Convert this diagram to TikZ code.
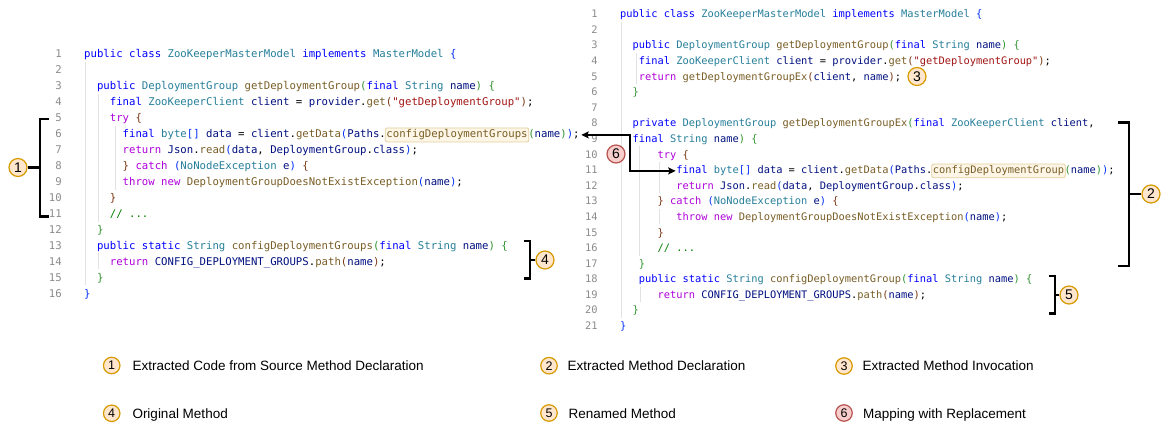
\documentclass[tikz,border=0pt]{standalone}
\usepackage{fontspec}
\setmainfont{Liberation Sans}
\newfontfamily\codefont{DejaVu Sans Mono}
\usetikzlibrary{arrows.meta}

% syntax colours (light editor theme)
\definecolor{ckw}{HTML}{0000FF}
\definecolor{cty}{HTML}{267F99}
\definecolor{cfn}{HTML}{795E26}
\definecolor{cva}{HTML}{001080}
\definecolor{cct}{HTML}{AF00DB}
\definecolor{cst}{HTML}{A31515}
\definecolor{ccm}{HTML}{008000}
\definecolor{cbA}{HTML}{0431FA}
\definecolor{cbB}{HTML}{319331}
\definecolor{cbC}{HTML}{7B3814}
\definecolor{lnumgray}{HTML}{8C8C8C}
\definecolor{guidegray}{HTML}{E2E2E2}
\definecolor{hlfill}{HTML}{FDF6E6}
\definecolor{hlline}{HTML}{E3CF9E}
\definecolor{orfill}{HTML}{FFE6CC}
\definecolor{orline}{HTML}{D79B00}
\definecolor{rdfill}{HTML}{F8CECC}
\definecolor{rdline}{HTML}{B85450}

\newcommand\cK[1]{\textcolor{ckw}{#1}}
\newcommand\cT[1]{\textcolor{cty}{#1}}
\newcommand\cF[1]{\textcolor{cfn}{#1}}
\newcommand\cV[1]{\textcolor{cva}{#1}}
\newcommand\cC[1]{\textcolor{cct}{#1}}
\newcommand\cS[1]{\textcolor{cst}{#1}}
\newcommand\cM[1]{\textcolor{ccm}{#1}}
\newcommand\bA[1]{\textcolor{cbA}{#1}}
\newcommand\bB[1]{\textcolor{cbB}{#1}}
\newcommand\bC[1]{\textcolor{cbC}{#1}}
\newcommand\dquote{\symbol{34}}

% line positions (baseline y, column x) of the two listings
\newcommand\ly[1]{(57.9+(#1-1)*15.96)}
\newcommand\ry[1]{(17.75+(#1-1)*15.59)}
\newcommand\lx[1]{(84+(#1)*6.42)}
\newcommand\rx[1]{(620+(#1)*6.24)}

\tikzset{
  lcode/.style={anchor=base west, inner sep=0pt, text height=8pt, text depth=2.4pt,
    font=\codefont\fontsize{10.66}{12}\selectfont},
  rcode/.style={anchor=base west, inner sep=0pt, text height=7.8pt, text depth=2.3pt,
    font=\codefont\fontsize{10.37}{12}\selectfont},
  lnum/.style={anchor=base east, inner sep=0pt, text=lnumgray,
    font=\codefont\fontsize{10.66}{12}\selectfont},
  rnum/.style={anchor=base east, inner sep=0pt, text=lnumgray,
    font=\codefont\fontsize{10.37}{12}\selectfont},
  hlbox/.style={fill=hlfill, draw=hlline, line width=0.8pt, rounded corners=2pt,
    inner xsep=1.2pt, inner ysep=1.8pt},
  guide/.style={draw=guidegray, line width=0.9pt},
  brk/.style={draw=black, line width=2.4pt},
  badge/.style={circle, draw=orline, fill=orfill, line width=1.2pt, minimum size=18pt,
    inner sep=0pt, font=\fontsize{14}{14}\selectfont},
  redbadge/.style={badge, draw=rdline, fill=rdfill},
  legbadge/.style={badge, minimum size=16.5pt, font=\fontsize{12.5}{13}\selectfont},
  legredbadge/.style={legbadge, draw=rdline, fill=rdfill},
  legtxt/.style={anchor=base west, inner sep=0pt, font=\fontsize{13.5}{16}\selectfont},
  maparrow/.style={draw=black, line width=1.3pt,
    arrows={Stealth[length=7.5pt,width=7pt,inset=1.5pt]-Stealth[length=7.5pt,width=7pt,inset=1.5pt]}},
}

\begin{document}
\begin{tikzpicture}[x=1pt, y=-1pt]
\fill[white] (0,0) rectangle (1163,423);
\useasboundingbox (0,0) rectangle (1163,423);

% ---------------- left listing ----------------
\foreach \n in {1,...,16} \node[lnum] at (62,{\ly{\n}}) {\n};

\draw[guide] (85.5,{\ly{2}-11.9}) -- (85.5,{\ly{15}+4.1});
\draw[guide] (98.5,{\ly{4}-11.9}) -- (98.5,{\ly{11}+4.1});
\draw[guide] (115.5,{\ly{6}-11.9}) -- (115.5,{\ly{9}+4.1});
\draw[guide] (98.5,{\ly{14}-11.9}) -- (98.5,{\ly{14}+4.1});

\node[lcode] (l1) at ({\lx{0}},{\ly{1}}) {\cK{public class} \cT{ZooKeeperMasterModel} \cK{implements} \cT{MasterModel} \bA{\{}};
\node[lcode] (l3) at ({\lx{2}},{\ly{3}}) {\cK{public} \cT{DeploymentGroup} \cF{getDeploymentGroup}\bB{(}\cK{final} \cT{String} \cV{name}\bB{)} \bB{\{}};
\node[lcode] (l4) at ({\lx{4}},{\ly{4}}) {\cK{final} \cT{ZooKeeperClient} \cV{client} = \cV{provider}.\cF{get}\bC{(}\cS{\dquote{}getDeploymentGroup\dquote}\bC{)};};
\node[lcode] (l5) at ({\lx{4}},{\ly{5}}) {\cC{try} \bC{\{}};
\node[lcode] (l6a) at ({\lx{6}},{\ly{6}}) {\cK{final} \cT{byte}\bA{[]} \cV{data} = \cV{client}.\cF{getData}\bA{(}\cV{Paths}.};
\node[lcode, hlbox] (l6b) at ([xshift=-1.2pt]l6a.base east) {\cF{configDeploymentGroups}};
\node[lcode] (l6c) at ([xshift=-1.2pt]l6b.base east) {\bB{(}\cV{name}\bB{)}\bA{)};};
\node[lcode] (l7) at ({\lx{6}},{\ly{7}}) {\cC{return} \cV{Json}.\cF{read}\bA{(}\cV{data}, \cV{DeploymentGroup}.\cV{class}\bA{)};};
\node[lcode] (l8) at ({\lx{6}},{\ly{8}}) {\bC{\}} \cC{catch} \bA{(}\cT{NoNodeException} \cV{e}\bA{)} \bC{\{}};
\node[lcode] (l9) at ({\lx{6}},{\ly{9}}) {\cC{throw} \cC{new} \cF{DeploymentGroupDoesNotExistException}\bA{(}\cV{name}\bA{)};};
\node[lcode] (l10) at ({\lx{4}},{\ly{10}}) {\bC{\}}};
\node[lcode] (l11) at ({\lx{4}},{\ly{11}}) {\cM{// ...}};
\node[lcode] (l12) at ({\lx{2}},{\ly{12}}) {\bB{\}}};
\node[lcode] (l13) at ({\lx{2}},{\ly{13}}) {\cK{public} \cK{static} \cT{String} \cF{configDeploymentGroups}\bB{(}\cK{final} \cT{String} \cV{name}\bB{)} \bB{\{}};
\node[lcode] (l14) at ({\lx{4}},{\ly{14}}) {\cC{return} \cV{CONFIG\_DEPLOYMENT\_GROUPS}.\cF{path}\bC{(}\cV{name}\bC{)};};
\node[lcode] (l15) at ({\lx{2}},{\ly{15}}) {\bB{\}}};
\node[lcode] (l16) at ({\lx{0}},{\ly{16}}) {\bA{\}}};

% ---------------- right listing ----------------
\foreach \n in {1,...,21} \node[rnum] at (597.7,{\ry{\n}}) {\n};

\draw[guide] (621.5,{\ry{2}-11.7}) -- (621.5,{\ry{20}+4});
\draw[guide] (636,{\ry{4}-11.7}) -- (636,{\ry{5}+4});
\draw[guide] (639,{\ry{10}-11.7}) -- (639,{\ry{16}+4});
\draw[guide] (659,{\ry{11}-11.7}) -- (659,{\ry{12}+4});
\draw[guide] (659,{\ry{14}-11.7}) -- (659,{\ry{14}+4});
\draw[guide] (640,{\ry{19}-11.7}) -- (640,{\ry{19}+4});

\node[rcode] (r1) at ({\rx{0}},{\ry{1}}) {\cK{public class} \cT{ZooKeeperMasterModel} \cK{implements} \cT{MasterModel} \bA{\{}};
\node[rcode] (r3) at ({\rx{2}},{\ry{3}}) {\cK{public} \cT{DeploymentGroup} \cF{getDeploymentGroup}\bB{(}\cK{final} \cT{String} \cV{name}\bB{)} \bB{\{}};
\node[rcode] (r4) at ({\rx{3}},{\ry{4}}) {\cK{final} \cT{ZooKeeperClient} \cV{client} = \cV{provider}.\cF{get}\bC{(}\cS{\dquote{}getDeploymentGroup\dquote}\bC{)};};
\node[rcode] (r5) at ({\rx{3}},{\ry{5}}) {\cC{return} \cF{getDeploymentGroupEx}\bC{(}\cV{client}, \cV{name}\bC{)};};
\node[rcode] (r6) at ({\rx{2}},{\ry{6}}) {\bB{\}}};
\node[rcode] (r8) at ({\rx{2}},{\ry{8}}) {\cK{private} \cT{DeploymentGroup} \cF{getDeploymentGroupEx}\bB{(}\cK{final} \cT{ZooKeeperClient} \cV{client},};
\node[rcode] (r9) at ({\rx{2}},{\ry{9}}) {\cK{final} \cT{String} \cV{name}\bB{)} \bB{\{}};
\node[rcode] (r10) at ({\rx{6}},{\ry{10}}) {\cC{try} \bC{\{}};
\node[rcode] (r11a) at ({\rx{9}},{\ry{11}}) {\cK{final} \cT{byte}\bA{[]} \cV{data} = \cV{client}.\cF{getData}\bA{(}\cV{Paths}.};
\node[rcode, hlbox] (r11b) at ([xshift=-1.2pt]r11a.base east) {\cF{configDeploymentGroup}};
\node[rcode] (r11c) at ([xshift=-1.2pt]r11b.base east) {\bB{(}\cV{name}\bB{)}\bA{)};};
\node[rcode] (r12) at ({\rx{9}},{\ry{12}}) {\cC{return} \cV{Json}.\cF{read}\bA{(}\cV{data}, \cV{DeploymentGroup}.\cV{class}\bA{)};};
\node[rcode] (r13) at ({\rx{6}},{\ry{13}}) {\bC{\}} \cC{catch} \bA{(}\cT{NoNodeException} \cV{e}\bA{)} \bC{\{}};
\node[rcode] (r14) at ({\rx{9}},{\ry{14}}) {\cC{throw} \cC{new} \cF{DeploymentGroupDoesNotExistException}\bA{(}\cV{name}\bA{)};};
\node[rcode] (r15) at ({\rx{6}},{\ry{15}}) {\bC{\}}};
\node[rcode] (r16) at ({\rx{6}},{\ry{16}}) {\cM{// ...}};
\node[rcode] (r17) at ({\rx{3}},{\ry{17}}) {\bB{\}}};
\node[rcode] (r18) at ({\rx{3}},{\ry{18}}) {\cK{public} \cK{static} \cT{String} \cF{configDeploymentGroup}\bB{(}\cK{final} \cT{String} \cV{name}\bB{)} \bB{\{}};
\node[rcode] (r19) at ({\rx{6}},{\ry{19}}) {\cC{return} \cV{CONFIG\_DEPLOYMENT\_GROUPS}.\cF{path}\bC{(}\cV{name}\bC{)};};
\node[rcode] (r20) at ({\rx{2}},{\ry{20}}) {\bB{\}}};
\node[rcode] (r21) at ({\rx{0}},{\ry{21}}) {\bA{\}}};

% ---------------- badges and brackets ----------------
\node[badge] (c1) at (18,167.5) {1};
\node[badge] (c2) at (1151,194) {2};
\node[badge] (c3) at (917,76.5) {3};
\node[badge] (c4) at (545,260) {4};
\node[badge] (c5) at (1069,295) {5};
\node[redbadge] (c6) at (616,154) {6};

\coordinate (b1t) at (40,118.7);
\coordinate (b1b) at (40,216.5);
\draw[brk] ([xshift=8.5pt]b1t) -- (b1t) -- (b1b) -- ([xshift=8.5pt]b1b);
\draw[brk] (c1.east) -- (c1.east -| b1t);

\coordinate (b2t) at (1129,122.3);
\coordinate (b2b) at (1129,266);
\draw[brk] ([xshift=-11pt]b2t) -- (b2t) -- (b2b) -- ([xshift=-11pt]b2b);
\draw[brk] (c2.west) -- (c2.west -| b2t);

\coordinate (b4t) at (530,241);
\coordinate (b4b) at (530,278.5);
\draw[brk] ([xshift=-6.5pt]b4t) -- (b4t) -- (b4b) -- ([xshift=-6.5pt]b4b);
\draw[brk] (c4.west) -- (c4.west -| b4t);

\coordinate (b5t) at (1055,276);
\coordinate (b5b) at (1055,313.3);
\draw[brk] ([xshift=-6.5pt]b5t) -- (b5t) -- (b5b) -- ([xshift=-6.5pt]b5b);
\draw[brk] (c5.west) -- (c5.west -| b5t);

% mapping with replacement
\coordinate (kink) at (630,153);
\draw[maparrow] ([xshift=1.5pt]l6c.east) -| (kink) |- ([xshift=-0.5pt]r11a.west);

% ---------------- legend ----------------
\node[legbadge] (k1) at (111.7,365.5) {1};
\node[legtxt] (t1) at (132.3,370.5) {Extracted Code from Source Method Declaration};
\node[legbadge] (k2) at (549,365.7) {2};
\node[legtxt] (t2) at (567.3,370.5) {Extracted Method Declaration};
\node[legbadge] (k3) at (844,366) {3};
\node[legtxt] (t3) at (862.3,370.5) {Extracted Method Invocation};
\node[legbadge] (k4) at (111.7,413.3) {4};
\node[legtxt] (t4) at (132.3,418.3) {Original Method};
\node[legbadge] (k5) at (549,413) {5};
\node[legtxt] (t5) at (568.5,418.3) {Renamed Method};
\node[legredbadge] (k6) at (844,413) {6};
\node[legtxt] (t6) at (862.8,418.3) {Mapping with Replacement};
\end{tikzpicture}
\end{document}
